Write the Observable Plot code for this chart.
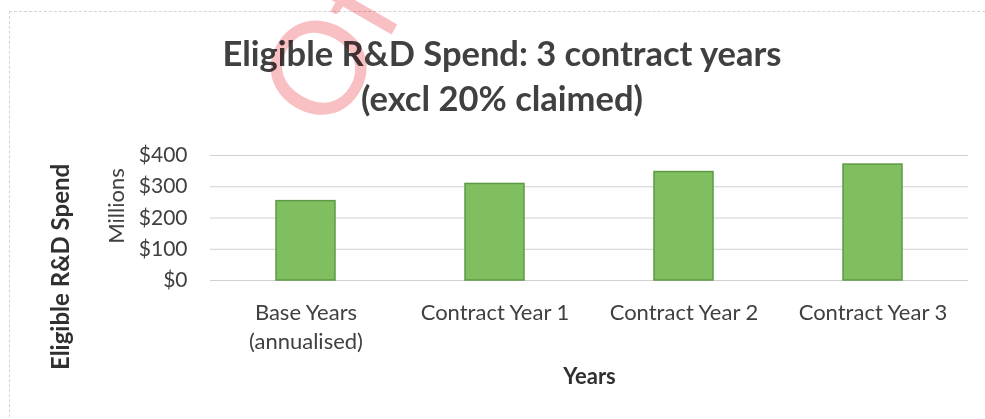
<!DOCTYPE html>
<html>
<head>
<meta charset="utf-8">
<script src="https://cdn.jsdelivr.net/npm/d3@7"></script>
<script src="https://cdn.jsdelivr.net/npm/@observablehq/plot@0.6"></script>
<style>
  html, body { margin: 0; padding: 0; background: #fff; }
  #page { position: relative; width: 985px; height: 419px; overflow: hidden; font-family: Lato, "Open Sans", sans-serif; }
  #frame { position: absolute; left: 9px; top: 11px; width: 990px; height: 420px; border-top: 1px dashed #d4d4d4; border-left: 1px dashed #d4d4d4; }
  #title { position: absolute; left: 0; top: 30px; width: 1004px; text-align: center; font-weight: bold; font-size: 34.5px; line-height: 45px; color: #404040; }
  #chart { position: absolute; left: 0; top: 120px; }
  #wm { position: absolute; left: 0; top: 0; pointer-events: none; mix-blend-mode: multiply; }
</style>
</head>
<body>
<div id="page">
  <div id="frame"></div>
  <div id="title">Eligible R&amp;D Spend: 3 contract years<br>(excl 20% claimed)</div>
  <div id="chart"></div>
  <svg id="wm" width="985" height="419"><text x="333" y="136" transform="rotate(-60 333 136)" font-family="Lato, sans-serif" font-size="130" fill="rgba(240,90,100,0.38)">Off</text></svg>
</div>
<script>
const categories = ["Base Years (annualised)", "Contract Year 1", "Contract Year 2", "Contract Year 3"];
const tickLabels = ["Base Years\n(annualised)", "Contract Year 1", "Contract Year 2", "Contract Year 3"];
const spend = [254, 309, 347, 371];
const yTicks = [0, 100, 200, 300, 400];
const yTitle = "Millions";
const outerYTitle = "Eligible R&D Spend";
const xTitle = "Years";

const data = categories.map((c, i) => ({category: c, value: spend[i]}));
const labelOf = new Map(categories.map((c, i) => [c, tickLabels[i]]));

const chart = Plot.plot({
  width: 985,
  height: 299,
  marginLeft: 210,
  marginRight: 17,
  marginTop: 35,
  marginBottom: 139,
  style: {fontFamily: "Lato, 'Open Sans', sans-serif", color: "#404040", background: "transparent", overflow: "visible"},
  x: {domain: categories, paddingInner: 0.69, paddingOuter: 0.345, label: null},
  y: {domain: [0, 400], label: null},
  marks: [
    Plot.gridY(yTicks, {stroke: "#d0d0d0", strokeOpacity: 1, strokeWidth: 1}),
    Plot.axisY({ticks: yTicks, tickSize: 0, tickPadding: 23, fontSize: 21, tickFormat: d => "$" + d, label: null}),
    Plot.axisX({tickSize: 0, tickPadding: 19, fontSize: 22, lineHeight: 1.32, tickFormat: d => labelOf.get(d), label: null}),
    Plot.barY(data, {x: "category", y: "value", fill: "#7fbf5f", stroke: "#5e9a45", strokeWidth: 1.5}),
    Plot.text([yTitle], {text: d => d, frameAnchor: "left", textAnchor: "middle", dx: -94, dy: -12, rotate: -90, fontSize: 22, fill: "#404040"}),
    Plot.text([outerYTitle], {text: d => d, frameAnchor: "left", textAnchor: "middle", dx: -149, dy: 49, rotate: -90, fontSize: 24, fontWeight: "bold", fill: "#303030"}),
    Plot.text([xTitle], {text: d => d, frameAnchor: "bottom", dy: 103, fontSize: 22, fontWeight: "bold", fill: "#303030"})
  ]
});
document.getElementById("chart").appendChild(chart);
</script>
</body>
</html>
